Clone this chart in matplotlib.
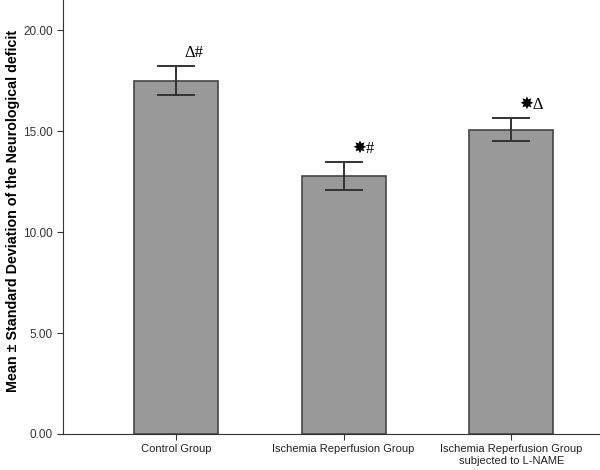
import matplotlib
matplotlib.use("Agg")
import matplotlib.pyplot as plt

categories = ["Control Group", "Ischemia Reperfusion Group", "Ischemia Reperfusion Group\nsubjected to L-NAME"]
means = [17.5, 12.8, 15.07]
sds = [0.72, 0.69, 0.57]
marks = ["Δ#", "✸#", "✸Δ"]
yticks = [0, 5, 10, 15, 20]

plt.rcParams['font.family'] = ['Liberation Sans', 'DejaVu Sans']

fig = plt.figure(figsize=(6, 4.7), dpi=100)
ax = fig.add_axes([0.105, 0.0766, 0.895, 0.9234])
x = list(range(len(categories)))
ax.bar(x, means, width=0.5, color="#999999", edgecolor="#444444", linewidth=1.2, zorder=2)
ax.errorbar(x, means, yerr=sds, fmt="none", ecolor="#333333", elinewidth=1.4, capsize=14, capthick=1.4, zorder=3)
for xi, m, s, t in zip(x, means, sds, marks):
    ax.text(xi + 0.05, m + s + 0.25, t, ha="left", va="bottom", fontsize=12,
            family=['Liberation Serif', 'DejaVu Sans'])

ax.set_xlim(-0.675, 2.53)
ax.set_ylim(0, 21.5)
ax.set_yticks(yticks)
ax.set_yticklabels([f"{v:.2f}" for v in yticks], fontsize=8.5, color="#333333")
ax.set_xticks(x)
ax.set_xticklabels(categories, fontsize=8, color="#222222")
ax.set_ylabel("Mean ± Standard Deviation of the Neurological deficit", fontsize=10.3,
              fontweight="bold")
ax.yaxis.set_label_coords(-0.08, 0.515)
ax.spines["top"].set_visible(False)
ax.spines["right"].set_visible(False)
ax.spines["left"].set_color("#333333")
ax.spines["bottom"].set_color("#333333")
ax.tick_params(axis="both", length=4, color="#333333")
fig.savefig("out.png", dpi=100)
